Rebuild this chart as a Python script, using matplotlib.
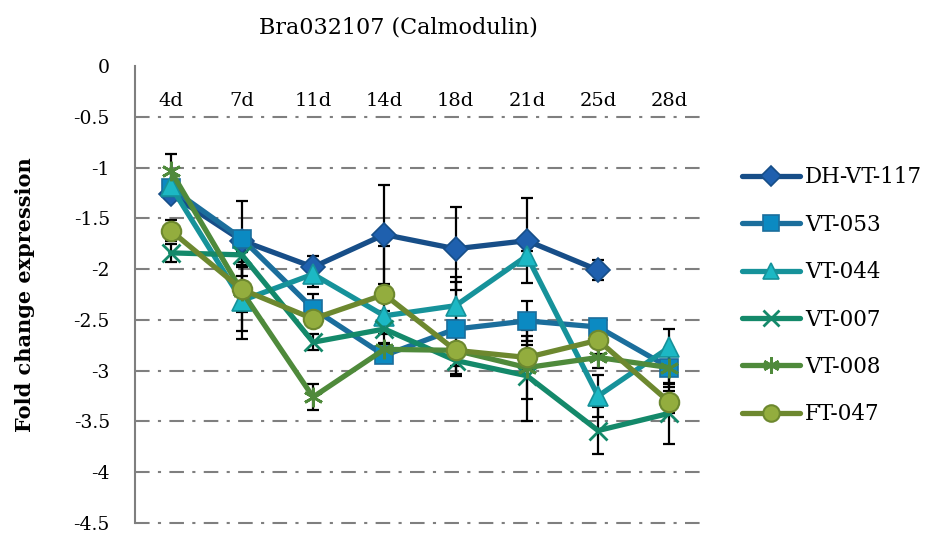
import matplotlib
matplotlib.use("Agg")
import matplotlib.pyplot as plt
import numpy as np

plt.rcParams['font.family'] = ['DejaVu Serif']

days = ["4d", "7d", "11d", "14d", "18d", "21d", "25d", "28d"]

dh_vt_117 = [-1.26, -1.72, -1.98, -1.66, -1.80, -1.72, -2.01, np.nan]
dh_vt_117_err = [0.05, 0.10, 0.11, 0.49, 0.41, 0.42, 0.10, np.nan]

vt_053 = [-1.20, -1.70, -2.39, -2.85, -2.59, -2.51, -2.57, -2.97]
vt_053_err = [0.05, 0.37, 0.14, 0.05, 0.46, 0.20, 0.05, 0.16]

vt_044 = [-1.18, -2.31, -2.05, -2.46, -2.36, -1.87, -3.25, -2.77]
vt_044_err = [0.05, 0.38, 0.13, 0.05, 0.28, 0.05, 0.21, 0.18]

vt_007 = [-1.84, -1.86, -2.72, -2.59, -2.90, -3.05, -3.59, -3.42]
vt_007_err = [0.09, 0.10, 0.08, 0.05, 0.05, 0.45, 0.23, 0.30]

vt_008 = [-1.03, -2.22, -3.26, -2.79, -2.80, -2.97, -2.87, -2.97]
vt_008_err = [0.16, 0.39, 0.13, 0.05, 0.05, 0.31, 0.10, 0.19]

ft_047 = [-1.62, -2.20, -2.49, -2.25, -2.80, -2.87, -2.70, -3.31]
ft_047_err = [0.10, 0.22, 0.07, 0.48, 0.23, 0.12, 0.14, 0.11]

series = [
    ("DH-VT-117", dh_vt_117, dh_vt_117_err, dict(color="#174E88", marker="D", ms=12,
                                                 mfc="#1F60AE", mec="#174E88", mew=1.2)),
    ("VT-053", vt_053, vt_053_err, dict(color="#1B6E9C", marker="s", ms=13,
                                        mfc="#0B8AC2", mec="#1B6E9C", mew=1.2)),
    ("VT-044", vt_044, vt_044_err, dict(color="#16929A", marker="^", ms=14,
                                        mfc="#1CB8C4", mec="#16929A", mew=1.2)),
    ("VT-007", vt_007, vt_007_err, dict(color="#14896A", marker="x", ms=13,
                                        mfc="#14896A", mec="#14896A", mew=2.0)),
    ("VT-008", vt_008, vt_008_err, dict(color="#4F8A3B", marker=(6, 2, 0), ms=14,
                                        mfc="#4F8A3B", mec="#4F8A3B", mew=2.0)),
    ("FT-047", ft_047, ft_047_err, dict(color="#6D882F", marker="o", ms=14,
                                        mfc="#93AD3E", mec="#6D882F", mew=1.5)),
]

fig = plt.figure(figsize=(9.27, 5.37), dpi=100)
ax = fig.add_axes([0.1456, 0.0261, 0.6149, 0.851])

x = np.arange(len(days))

# error bars underneath the lines
for name, vals, errs, st in series:
    ax.errorbar(x, vals, yerr=errs, fmt="none", ecolor="black", elinewidth=1.6,
                capsize=4.5, capthick=1.6, zorder=2)

for i, (name, vals, errs, st) in enumerate(series):
    ax.plot(x, vals, lw=3.8, label=name, zorder=3 + i, solid_joinstyle="round",
            solid_capstyle="round", **st)

ax.set_xlim(-0.5, len(days) - 0.5)
ax.set_ylim(-4.5, 0)

# horizontal gridlines (dash-dot)
for gy in np.arange(-0.5, -4.51, -0.5):
    ax.axhline(gy, color="#7f7f7f", lw=1.5, dashes=(7, 4, 1.5, 4), zorder=1,
               clip_on=False)

yt = np.arange(0, -4.51, -0.5)
ax.set_yticks(yt)
ax.set_yticklabels(["0" if v == 0 else f"{v:g}" for v in yt])
ax.tick_params(axis="y", length=0, pad=18, labelsize=13.5)

# category axis sits at zero with its labels inside the plot
ax.spines["bottom"].set_position(("data", 0))
ax.spines["bottom"].set_visible(False)
ax.spines["top"].set_visible(False)
ax.spines["right"].set_visible(False)
ax.spines["left"].set_color("#7f7f7f")
ax.spines["left"].set_linewidth(1.5)
ax.set_xticks(x)
ax.set_xticklabels(days)
ax.tick_params(axis="x", length=0, pad=19, labelsize=14)

ax.set_ylabel("Fold change expression", fontsize=15, fontweight="bold", labelpad=28)
fig.text(0.43, 0.948, "Bra032107 (Calmodulin)", ha="center", va="center", fontsize=16)

leg = fig.legend(loc="center left", bbox_to_anchor=(0.80, 0.449), frameon=False,
                 fontsize=15.5, handlelength=2.7, handletextpad=0.25, labelspacing=1.18,
                 borderpad=0, borderaxespad=0, markerscale=0.85)
for h in leg.legend_handles:
    h.set_linewidth(3.8)

fig.savefig("out.png", dpi=100)
